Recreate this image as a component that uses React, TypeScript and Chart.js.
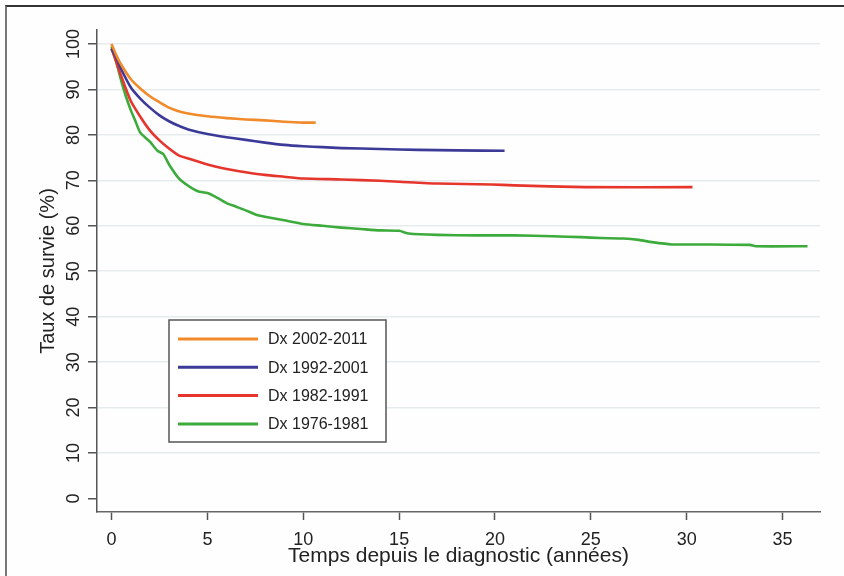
import React, { useEffect, useRef } from "react";
import { Chart, registerables } from "chart.js";

Chart.register(...registerables);

const seriesLabels = ["Dx 2002-2011", "Dx 1992-2001", "Dx 1982-1991", "Dx 1976-1981"];
const seriesColors = ["#f08a2a", "#3b3a98", "#e5352c", "#3cab3c"];

const timesA = [0, 0.25, 0.5, 1, 1.5, 2, 2.5, 3, 3.5, 4, 5, 6, 7, 8, 9, 10, 10.65];
const valuesA = [100, 97.5, 95.5, 92.3, 90.2, 88.5, 87.2, 86, 85.2, 84.7, 84.1, 83.7, 83.4, 83.2, 82.9, 82.7, 82.7];

const timesB = [0, 0.25, 0.5, 1, 1.5, 2, 2.5, 3, 3.5, 4, 5, 6, 7, 8, 9, 10, 11, 12, 14, 16, 18, 20.5];
const valuesB = [99, 97, 94.5, 90.5, 88, 86, 84.3, 83, 82, 81.2, 80.2, 79.5, 78.9, 78.3, 77.8, 77.5, 77.3, 77.1, 76.9, 76.7, 76.6, 76.5];

const timesC = [0, 0.25, 0.5, 1, 1.5, 2, 2.5, 3, 3.5, 4, 5, 6, 7, 8, 9, 10, 12, 14, 15, 17, 19.8, 21, 24.7, 30.3];
const valuesC = [99, 96, 93, 87.5, 84, 81, 78.8, 77, 75.5, 74.8, 73.5, 72.5, 71.8, 71.2, 70.8, 70.4, 70.2, 69.9, 69.7, 69.3, 69.1, 68.9, 68.5, 68.5];

const timesD = [0, 0.25, 0.5, 0.75, 1, 1.25, 1.5, 2, 2.4, 2.7, 3, 3.5, 4, 4.5, 5, 5.5, 6, 6.5, 7, 7.5, 8, 9, 10, 11, 12, 13, 14, 15, 15.5, 17, 19, 21, 23, 24.5, 25.5, 26.7, 27.5, 28.2, 29.2, 31, 33.3, 33.6, 36.3];
const valuesD = [99.5, 96, 92, 88.5, 85.5, 83, 80.5, 78.5, 76.5, 75.8, 73.5, 70.5, 68.8, 67.6, 67.2, 66.2, 65, 64.2, 63.4, 62.5, 62, 61.2, 60.4, 60, 59.6, 59.3, 59, 58.9, 58.3, 58, 57.9, 57.9, 57.7, 57.5, 57.3, 57.2, 56.9, 56.4, 55.9, 55.9, 55.8, 55.5, 55.5];

const seriesTimes = [timesA, timesB, timesC, timesD];
const seriesValues = [valuesA, valuesB, valuesC, valuesD];

const xTitle = "Temps depuis le diagnostic (années)";
const yTitle = "Taux de survie (%)";

const FONT = "'Liberation Sans', Arial, sans-serif";

const legendPlugin = {
  id: "boxLegend",
  afterDatasetsDraw(chart: any) {
    const { ctx, chartArea } = chart;
    const left = chartArea.left + 72;
    const top = chartArea.top + 290;
    const w = 217;
    const h = 122;
    ctx.save();
    ctx.fillStyle = "#ffffff";
    ctx.fillRect(left, top, w, h);
    ctx.strokeStyle = "#555";
    ctx.lineWidth = 1.5;
    ctx.strokeRect(left, top, w, h);
    ctx.font = "16px " + FONT;
    ctx.textBaseline = "middle";
    ctx.textAlign = "left";
    chart.data.datasets.forEach((ds: any, i: number) => {
      const y = top + 19 + i * 28.3;
      ctx.strokeStyle = ds.borderColor;
      ctx.lineWidth = 3;
      ctx.beginPath();
      ctx.moveTo(left + 9, y);
      ctx.lineTo(left + 89, y);
      ctx.stroke();
      ctx.fillStyle = "#222";
      ctx.fillText(ds.label, left + 99, y + 1);
    });
    ctx.restore();
  },
};

export default function App() {
  const ref = useRef<HTMLCanvasElement | null>(null);
  useEffect(() => {
    if (!ref.current) return;
    const chart = new Chart(ref.current, {
      type: "line",
      data: {
        datasets: seriesLabels.map((label, i) => ({
          label,
          data: seriesTimes[i].map((t, j) => ({ x: t, y: seriesValues[i][j] })),
          borderColor: seriesColors[i],
          backgroundColor: seriesColors[i],
          borderWidth: 2.6,
          pointRadius: 0,
          tension: 0.2,
          fill: false,
        })),
      },
      options: {
        animation: false,
        responsive: false,
        maintainAspectRatio: false,
        layout: { padding: { top: 30, right: 24, left: 0, bottom: 0 } },
        plugins: { legend: { display: false }, tooltip: { enabled: false } },
        scales: {
          x: {
            type: "linear",
            min: -0.757,
            max: 36.95,
            afterFit: (s: any) => {
              s.height = 64;
            },
            ticks: {
              stepSize: 5,
              includeBounds: false,
              color: "#222",
              padding: 9,
              maxRotation: 0,
              font: { family: FONT, size: 18 },
            },
            grid: {
              color: "rgba(0,0,0,0)",
              tickColor: "#555",
              tickLength: 8,
              tickWidth: 1.5,
            },
            border: { color: "#666", width: 1.5 },
            title: {
              display: true,
              text: xTitle,
              color: "#222",
              font: { family: FONT, size: 21 },
              padding: { top: 0, bottom: 7 },
            },
          },
          y: {
            type: "linear",
            min: -2.97,
            max: 103.08,
            afterFit: (s: any) => {
              s.width = 97;
            },
            ticks: {
              stepSize: 10,
              includeBounds: false,
              color: "#222",
              padding: -1,
              minRotation: 90,
              maxRotation: 90,
              crossAlign: "center",
              font: { family: FONT, size: 18 },
            },
            grid: {
              color: (c: any) => (c.tick && c.tick.value > 0 ? "#e6ebee" : "rgba(0,0,0,0)"),
              lineWidth: 1.5,
              tickColor: "#555",
              tickLength: 9,
              tickWidth: 1.5,
            },
            border: { color: "#555", width: 1.5 },
            title: {
              display: true,
              text: yTitle,
              color: "#222",
              font: { family: FONT, size: 20 },
              padding: { top: 36, bottom: 0 },
            },
          },
        },
      },
      plugins: [legendPlugin],
    });
    return () => chart.destroy();
  }, []);

  return (
    <div style={{ position: "absolute", left: 0, top: 0, width: 844, height: 576, background: "#fefefe", overflow: "hidden" }}>
      <canvas ref={ref} width={844} height={576} style={{ position: "absolute", left: 0, top: 0 }} />
      <div
        style={{
          position: "absolute",
          left: 5,
          top: 5,
          width: 860,
          height: 600,
          borderTop: "2px solid #333",
          borderLeft: "2px solid #777",
          pointerEvents: "none",
        }}
      />
    </div>
  );
}
